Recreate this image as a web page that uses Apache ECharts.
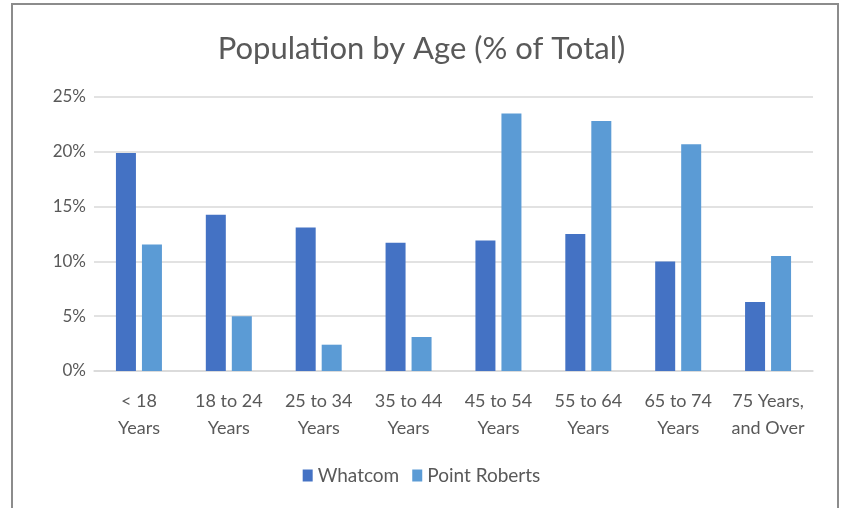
<!DOCTYPE html>
<html><head><meta charset="utf-8">
<script src="https://cdn.jsdelivr.net/npm/echarts@6/dist/echarts.min.js"></script>
<style>html,body{margin:0;padding:0;background:#fff}#c{width:843px;height:508px}</style>
</head><body><div id="c"></div>
<script>
const categories = ['< 18\nYears','18 to 24\nYears','25 to 34\nYears','35 to 44\nYears','45 to 54\nYears','55 to 64\nYears','65 to 74\nYears','75 Years,\nand Over'];
const whatcom = [19.9, 14.25, 13.1, 11.7, 11.9, 12.5, 10.0, 6.3];
const pointRoberts = [11.55, 5.0, 2.4, 3.1, 23.5, 22.8, 20.7, 10.5];
const yTicks = [0, 5, 10, 15, 20, 25];

const font = 'Lato, "Open Sans", sans-serif';
const chart = echarts.init(document.getElementById('c'));
chart.setOption({
  animation: false,
  graphic: [{type:'rect', shape:{x:12,y:4,width:826,height:540}, style:{fill:'none', stroke:'#8c8c8c', lineWidth:2}}],
  title: {text:'Population by Age (% of Total)', left:'center', top:28,
    textStyle:{fontFamily:font, fontWeight:'normal', fontSize:31, color:'#595959'}},
  grid: {left:94, right:30, top:97, bottom:137},
  legend: {bottom:18, left:'center', itemWidth:10, itemHeight:12, itemGap:13,
    icon:'rect', textStyle:{fontFamily:font, fontSize:19, color:'#595959'},
    data:['Whatcom','Point Roberts']},
  xAxis: {type:'category', data:categories,
    axisLine:{lineStyle:{color:'#d9d9d9', width:1.5}}, axisTick:{show:false},
    axisLabel:{fontFamily:font, fontSize:18, color:'#595959', margin:17, lineHeight:27, interval:0}},
  yAxis: {type:'value', min:yTicks[0], max:yTicks[yTicks.length-1], interval:5,
    axisLine:{show:false}, axisTick:{show:false},
    splitLine:{lineStyle:{color:'#d9d9d9', width:1.5}},
    axisLabel:{fontFamily:font, fontSize:17, color:'#595959', margin:8, formatter:'{value}%'}},
  series: [
    {name:'Whatcom', type:'bar', data:whatcom, barWidth:20, barGap:'30%', itemStyle:{color:'#4472C4'}},
    {name:'Point Roberts', type:'bar', data:pointRoberts, barWidth:20, barGap:'30%', itemStyle:{color:'#5B9BD5'}}
  ]
});
</script></body></html>
